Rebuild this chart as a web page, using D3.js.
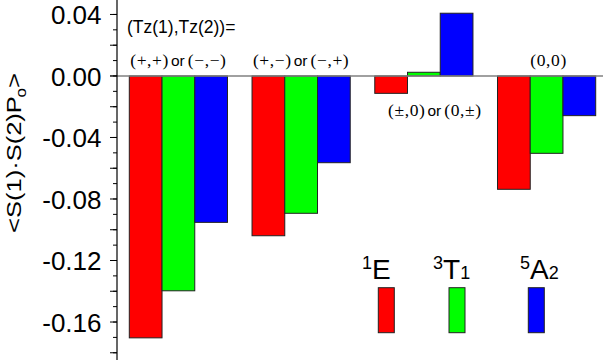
<!DOCTYPE html>
<html><head><meta charset="utf-8">
<script src="https://cdn.jsdelivr.net/npm/d3@7"></script>
<style>body{margin:0;background:#fff}svg{display:block}</style>
</head><body>
<svg id="c" width="603" height="360"></svg>
<script>
// ---- data ----
const categories = ["(+,+) or (\u2212,\u2212)", "(+,\u2212) or (\u2212,+)", "(\u00b1,0) or (0,\u00b1)", "(0,0)"];
const seriesNames = ["1E", "3T1", "5A2"];
const seriesSup = ["1", "3", "5"];
const seriesMain = ["E", "T", "A"];
const seriesSub = ["", "1", "2"];
const valuesE  = [-0.1703, -0.1039, -0.0113, -0.0737];
const valuesT1 = [-0.1397, -0.0893,  0.0024, -0.0503];
const valuesA2 = [-0.0952, -0.0564,  0.0408, -0.0258];
const yTickValues = [0.04, 0.00, -0.04, -0.08, -0.12, -0.16];
const yTickLabels = ["0.04", "0.00", "-0.04", "-0.08", "-0.12", "-0.16"];
const yLabel = "<S(1)\u00b7S(2)P";
const yLabelSub = "o";
const annotation = "(Tz(1),Tz(2))=";
const colors = ["#ff0000", "#00ff00", "#0000ff"];

const seriesValues = [valuesE, valuesT1, valuesA2];

const svg = d3.select("#c");
const W = 603, H = 360;
const axisX = 117;

const y = d3.scaleLinear().domain([-0.1847, 0.0494]).range([H, 0]);
const x0 = d3.scaleBand().domain(categories).range([129.3, 595.7]).paddingInner(0.2).paddingOuter(0);
const x1 = d3.scaleBand().domain(seriesNames).range([0, x0.bandwidth()]).padding(0);

// bars
const groups = svg.append("g").selectAll("g").data(categories).join("g")
  .attr("transform", d => `translate(${x0(d)},0)`);
groups.selectAll("rect").data((d, ci) => seriesNames.map((s, si) => ({s, si, v: seriesValues[si][ci]})))
  .join("rect")
  .attr("x", d => x1(d.s))
  .attr("width", x1.bandwidth())
  .attr("y", d => y(Math.max(0, d.v)))
  .attr("height", d => Math.abs(y(d.v) - y(0)))
  .attr("fill", d => colors[d.si])
  .attr("stroke", "#222")
  .attr("stroke-width", 1);

// zero line
svg.append("line").attr("x1", 110).attr("x2", W).attr("y1", y(0)).attr("y2", y(0))
  .attr("stroke", "#808080").attr("stroke-width", 1.6);

// y axis
const minorTicks = d3.range(-18, 5).map(i => i / 100);
const majorTicks = d3.range(-18, 5, 2).map(i => i / 100);
const ax = svg.append("g").attr("transform", `translate(${axisX},0)`);
ax.append("line").attr("x1", 0).attr("x2", 0).attr("y1", 0).attr("y2", H).attr("stroke", "#000").attr("stroke-width", 1.2);
ax.selectAll("line.mi").data(minorTicks).join("line").attr("class", "mi")
  .attr("x1", -4).attr("x2", 0).attr("y1", d => y(d)).attr("y2", d => y(d)).attr("stroke", "#000");
ax.selectAll("line.ma").data(majorTicks).join("line").attr("class", "ma")
  .attr("x1", -7).attr("x2", 0).attr("y1", d => y(d)).attr("y2", d => y(d)).attr("stroke", "#000");
ax.selectAll("text").data(yTickValues).join("text")
  .attr("x", -15.5).attr("y", d => y(d)).attr("dy", "0.37em")
  .attr("text-anchor", "end")
  .attr("font-family", "Liberation Sans, Arial, sans-serif").attr("font-size", 26)
  .text((d, i) => yTickLabels[i]);

// y label
const yl = svg.append("text")
  .attr("font-family", "Liberation Sans, Arial, sans-serif").attr("font-size", 21)
  .attr("text-anchor", "middle");
yl.append("tspan").text(yLabel);
yl.append("tspan").attr("font-size", 14).attr("dy", 5).attr("dx", -1).text(yLabelSub);
yl.append("tspan").attr("dy", -5).text(">");
const bw = yl.node().getBBox().width;
yl.attr("transform", `translate(21,153) rotate(-90) scale(${160 / bw},1)`);

// annotation
svg.append("text").attr("x", 127).attr("y", 33)
  .attr("font-family", "Liberation Sans, Arial, sans-serif").attr("font-size", 17.5)
  .text(annotation);

// group labels
const labelOffsets = [[0, 66], [0, 66], [11, 116], [2, 66]];
categories.forEach((c, i) => {
  const parts = c.split(" or ");
  const t = svg.append("text")
    .attr("x", x0(c) + x0.bandwidth() / 2 + labelOffsets[i][0])
    .attr("y", labelOffsets[i][1])
    .attr("text-anchor", "middle");
  parts.forEach((p, j) => {
    if (j > 0) {
      t.append("tspan").attr("dx", 2).attr("font-family", "Liberation Sans, Arial, sans-serif")
        .attr("font-size", 15.5).text("or");
    }
    t.append("tspan").attr("dx", j > 0 ? 3 : 0)
      .attr("font-family", "Liberation Serif, Times New Roman, serif")
      .attr("font-size", 17.5).attr("letter-spacing", 0.6).text(p);
  });
});

// legend
const legSwatchX = [378.3, 449, 528.3];
const legTextX = [362, 433, 520];
seriesNames.forEach((s, i) => {
  svg.append("rect").attr("x", legSwatchX[i]).attr("y", 287.7).attr("width", 16).attr("height", 45)
    .attr("fill", colors[i]).attr("stroke", "#222").attr("stroke-width", 1);
  const t = svg.append("text").attr("x", legTextX[i]).attr("y", 279.3)
    .attr("font-family", "Liberation Sans, Arial, sans-serif");
  t.append("tspan").attr("font-size", 18).attr("dy", -10).text(seriesSup[i]);
  t.append("tspan").attr("font-size", 28).attr("dy", 10).text(seriesMain[i]);
  if (seriesSub[i]) t.append("tspan").attr("font-size", 18).text(seriesSub[i]);
});
</script>
</body></html>
